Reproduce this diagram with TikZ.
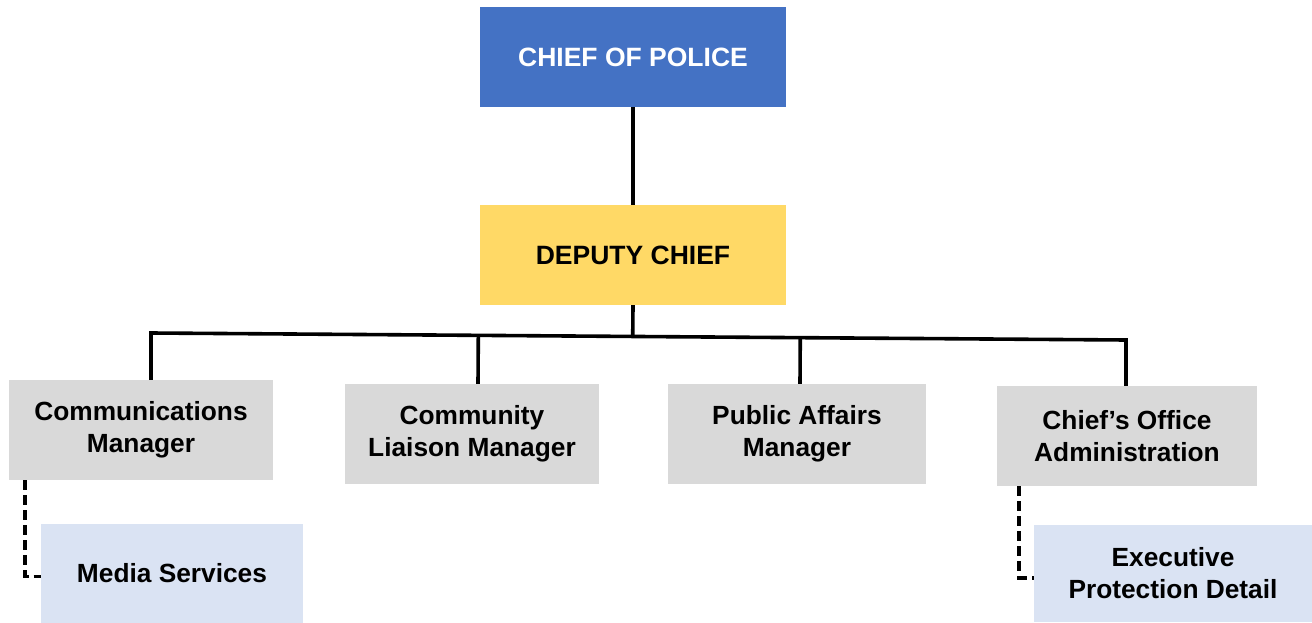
\documentclass[tikz,border=0pt]{standalone}
\usepackage{fontspec}
\setmainfont{Liberation Sans}
\usetikzlibrary{calc}
\definecolor{chiefblue}{HTML}{4472C4}
\definecolor{depyellow}{HTML}{FFD966}
\definecolor{mgrgray}{HTML}{D9D9D9}
\definecolor{subblue}{HTML}{DAE3F3}
\tikzset{
  box/.style={rectangle, inner sep=0pt, align=center, font=\bfseries\fontsize{26.3}{32}\selectfont, text=black},
  headbox/.style={box, minimum width=306pt, minimum height=100pt, font=\bfseries\fontsize{26.5}{32}\selectfont},
  mgr/.style={box, fill=mgrgray, minimum height=100pt},
  sub/.style={box, fill=subblue, minimum height=98pt},
  solidline/.style={line width=3.6pt, black},
  dashline/.style={line width=3.6pt, black, dash pattern=on 10pt off 5pt}
}
\begin{document}
\begin{tikzpicture}[x=1pt,y=-1pt]
\useasboundingbox (0,0) rectangle (1312,623);
\node[headbox, fill=chiefblue, text=white] (chief) at (633,57) {CHIEF OF POLICE};
\node[headbox, fill=depyellow] (deputy) at (633,255) {DEPUTY CHIEF};
\node[mgr, minimum width=264pt] (cm) at (141,430) {Communications\\Manager};
\node[mgr, minimum width=254pt] (cl) at (472,434) {Community\\Liaison Manager};
\node[mgr, minimum width=258pt] (pa) at (797,434) {Public Affairs\\Manager};
\node[mgr, minimum width=260pt] (co) at (1127,436) {Chief’s Office\\Administration};
\node[sub, minimum width=262pt, minimum height=99pt] (ms) at (172,573.5) {Media Services};
\node[sub, minimum width=278pt, minimum height=97pt] (ep) at (1173,573) {Executive\\Protection Detail};
\coordinate (bL) at (151,333);
\coordinate (bR) at (1126,340);
\draw[solidline] (chief.south) -- (deputy.north);
\draw[solidline] (deputy.south) -- ($(bL)!(deputy.south)!(bR)$);
\draw[solidline, line join=miter] ([xshift=10pt]cm.north) -- (bL) -- (bR) -- ([xshift=-1pt]co.north);
\draw[solidline] ([xshift=6pt]cl.north) -- ($(bL)!([xshift=6pt]cl.north)!(bR)$);
\draw[solidline] ([xshift=3pt]pa.north) -- ($(bL)!([xshift=3pt]pa.north)!(bR)$);
\coordinate (msin) at ([yshift=-3pt]ms.west);
\coordinate (epin) at ([yshift=-5pt]ep.west);
\draw[dashline] ([xshift=16pt]cm.south west) |- (msin);
\draw[dashline] ([xshift=22pt]co.south west) |- (epin);
\end{tikzpicture}
\end{document}
